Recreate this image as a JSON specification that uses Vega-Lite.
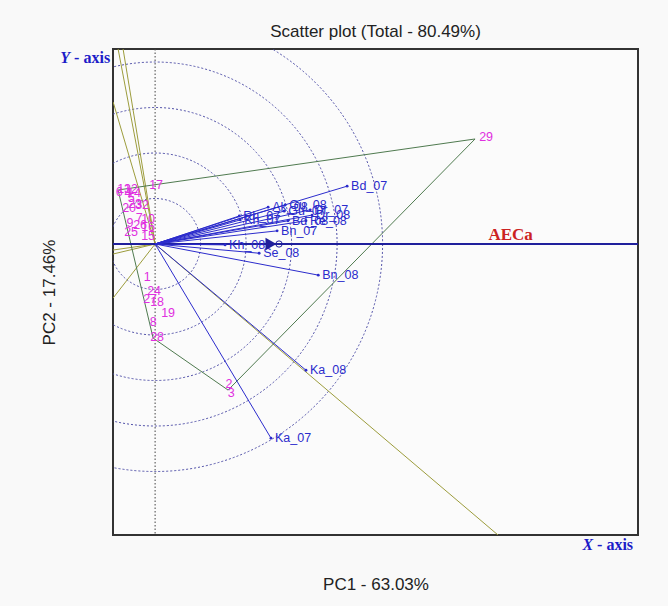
{
  "$schema": "https://vega.github.io/schema/vega-lite/v6.json",
  "width": 525,
  "height": 486,
  "autosize": {"type": "none"},
  "padding": {"left": 113, "top": 49, "right": 30, "bottom": 71},
  "background": "#f9f9f9",
  "title": {"text": "Scatter plot (Total - 80.49%)", "font": "Liberation Sans", "fontSize": 17, "fontWeight": "normal", "color": "#222222", "anchor": "middle", "frame": "group", "baseline": "alphabetic", "offset": -5},
  "config": {
    "view": {"stroke": "#333333", "strokeWidth": 2, "fill": "#fbfbfb"},
    "axis": {"domain": false, "ticks": false, "labels": false, "grid": false, "titleFont": "Liberation Sans", "titleFontSize": 17, "titleFontWeight": "normal", "titleColor": "#222222"}
  },
  "datasets": {
    "circles": [{"r": 1}, {"r": 2}, {"r": 3}, {"r": 4}, {"r": 5}],
    "refs": [{"ref": "origin"}],
    "sectors": [
      {"x": 7.25, "y": -6.64}, {"x": -0.782, "y": 4.452}, {"x": -0.677, "y": 4.452},
      {"x": -0.888, "y": 3.242}, {"x": -0.888, "y": -0.137}, {"x": -0.888, "y": -0.228}, {"x": -0.888, "y": -1.233}
    ],
    "polygon": [
      {"g": "29", "o": 1, "x": 6.765, "y": 2.397},
      {"g": "6", "o": 2, "x": -0.782, "y": 1.233},
      {"g": "28", "o": 3, "x": -0.042, "y": -2.146},
      {"g": "3", "o": 4, "x": 1.543, "y": -3.333},
      {"g": "29", "o": 5, "x": 6.765, "y": 2.397}
    ],
    "env": [
      {"env": "Bd_07", "x": 4.06, "y": 1.32},
      {"env": "Bn_08", "x": 3.45, "y": -0.71},
      {"env": "Ka_08", "x": 3.19, "y": -2.88},
      {"env": "Ka_07", "x": 2.45, "y": -4.43},
      {"env": "Bn_07", "x": 2.58, "y": 0.30},
      {"env": "Kh_08", "x": 1.48, "y": -0.02},
      {"env": "Se_08", "x": 2.20, "y": -0.21},
      {"env": "Ak_08", "x": 2.39, "y": 0.84},
      {"env": "Gu_08", "x": 2.75, "y": 0.89},
      {"env": "Gu_07", "x": 2.73, "y": 0.75},
      {"env": "Dr_07", "x": 3.28, "y": 0.78},
      {"env": "Dr_08", "x": 3.32, "y": 0.66},
      {"env": "Bd_08", "x": 2.81, "y": 0.53},
      {"env": "Re_08", "x": 3.19, "y": 0.53},
      {"env": "Rh_07", "x": 1.78, "y": 0.64},
      {"env": "Kh_07", "x": 1.80, "y": 0.55}
    ],
    "geno": [
      {"g": "6", "x": -0.761, "y": 1.187},
      {"g": "13", "x": -0.655, "y": 1.256},
      {"g": "12", "x": -0.507, "y": 1.256},
      {"g": "4", "x": -0.571, "y": 1.164},
      {"g": "14", "x": -0.444, "y": 1.164},
      {"g": "5", "x": -0.507, "y": 1.050},
      {"g": "20", "x": -0.550, "y": 0.822},
      {"g": "23", "x": -0.423, "y": 0.913},
      {"g": "32", "x": -0.275, "y": 0.890},
      {"g": "7", "x": -0.338, "y": 0.594},
      {"g": "10", "x": -0.148, "y": 0.571},
      {"g": "9", "x": -0.529, "y": 0.479},
      {"g": "26", "x": -0.317, "y": 0.434},
      {"g": "16", "x": -0.148, "y": 0.388},
      {"g": "25", "x": -0.507, "y": 0.274},
      {"g": "15", "x": -0.148, "y": 0.183},
      {"g": "17", "x": 0.021, "y": 1.347},
      {"g": "1", "x": -0.169, "y": -0.753},
      {"g": "24", "x": -0.021, "y": -1.073},
      {"g": "27", "x": -0.106, "y": -1.256},
      {"g": "18", "x": 0.042, "y": -1.324},
      {"g": "19", "x": 0.275, "y": -1.575},
      {"g": "8", "x": -0.042, "y": -1.781},
      {"g": "28", "x": 0.042, "y": -2.123},
      {"g": "2", "x": 1.564, "y": -3.196},
      {"g": "3", "x": 1.607, "y": -3.402},
      {"g": "29", "x": 6.998, "y": 2.443}
    ],
    "notes": [
      {"t": "AECa", "kind": "aec", "x": 7.516, "y": 0.215},
      {"t": "Y", "kind": "axisItalic", "x": -1.797, "y": 4.235},
      {"t": "- axis", "kind": "axisBold", "x": -0.951, "y": 4.235},
      {"t": "X", "kind": "axisItalic", "x": 9.26, "y": -6.87},
      {"t": "- axis", "kind": "axisBold", "x": 10.106, "y": -6.87}
    ],
    "aec": [{"x": 2.45, "y": 0, "part": "head"}, {"x": 2.62, "y": 0, "part": "ring"}]
  },
  "layer": [
    {
      "data": {"name": "circles"},
      "mark": {"type": "point", "shape": "circle", "filled": false, "stroke": "#5050a8", "strokeWidth": 1, "strokeDash": [2, 2], "clip": true, "opacity": 1},
      "encoding": {
        "x": {"datum": 0, "type": "quantitative", "scale": {"domain": [-0.89, 10.21], "nice": false, "zero": false}, "axis": {"title": "PC1 - 63.03%", "titlePadding": 41}},
        "y": {"datum": 0, "type": "quantitative", "scale": {"domain": [-6.64, 4.45], "nice": false, "zero": false}, "axis": {"title": "PC2 - 17.46%", "titlePadding": 55}},
        "size": {"field": "r", "type": "quantitative", "scale": {"type": "pow", "exponent": 2, "domain": [0, 5], "range": [0, 207025]}, "legend": null}
      }
    },
    {
      "data": {"name": "refs"},
      "mark": {"type": "rule", "stroke": "#444444", "strokeWidth": 1, "strokeDash": [1.5, 2]},
      "encoding": {"x": {"datum": 0, "type": "quantitative", "scale": {"domain": [-0.89, 10.21], "nice": false, "zero": false}}}
    },
    {
      "data": {"name": "sectors"},
      "mark": {"type": "rule", "stroke": "#9c9c3c", "strokeWidth": 1, "clip": true},
      "encoding": {
        "x": {"field": "x", "type": "quantitative", "scale": {"domain": [-0.89, 10.21], "nice": false, "zero": false}},
        "y": {"field": "y", "type": "quantitative", "scale": {"domain": [-6.64, 4.45], "nice": false, "zero": false}},
        "x2": {"datum": 0},
        "y2": {"datum": 0}
      }
    },
    {
      "data": {"name": "polygon"},
      "mark": {"type": "line", "stroke": "#4f7a4f", "strokeWidth": 1, "clip": true},
      "encoding": {
        "x": {"field": "x", "type": "quantitative", "scale": {"domain": [-0.89, 10.21], "nice": false, "zero": false}},
        "y": {"field": "y", "type": "quantitative", "scale": {"domain": [-6.64, 4.45], "nice": false, "zero": false}},
        "order": {"field": "o", "type": "quantitative"}
      }
    },
    {
      "data": {"name": "refs"},
      "mark": {"type": "rule", "stroke": "#1f1f9c", "strokeWidth": 2},
      "encoding": {"y": {"datum": 0, "type": "quantitative", "scale": {"domain": [-6.64, 4.45], "nice": false, "zero": false}}}
    },
    {
      "data": {"name": "env"},
      "mark": {"type": "rule", "stroke": "#2b2bcc", "strokeWidth": 1},
      "encoding": {
        "x": {"field": "x", "type": "quantitative", "scale": {"domain": [-0.89, 10.21], "nice": false, "zero": false}},
        "y": {"field": "y", "type": "quantitative", "scale": {"domain": [-6.64, 4.45], "nice": false, "zero": false}},
        "x2": {"datum": 0},
        "y2": {"datum": 0}
      }
    },
    {
      "data": {"name": "env"},
      "mark": {"type": "point", "shape": "circle", "filled": true, "color": "#2b2bcc", "size": 8, "opacity": 1},
      "encoding": {
        "x": {"field": "x", "type": "quantitative", "scale": {"domain": [-0.89, 10.21], "nice": false, "zero": false}},
        "y": {"field": "y", "type": "quantitative", "scale": {"domain": [-6.64, 4.45], "nice": false, "zero": false}}
      }
    },
    {
      "data": {"name": "env"},
      "mark": {"type": "text", "align": "left", "baseline": "middle", "dx": 4, "font": "Liberation Sans", "fontSize": 12.5, "color": "#2b2bcc"},
      "encoding": {
        "x": {"field": "x", "type": "quantitative", "scale": {"domain": [-0.89, 10.21], "nice": false, "zero": false}},
        "y": {"field": "y", "type": "quantitative", "scale": {"domain": [-6.64, 4.45], "nice": false, "zero": false}},
        "text": {"field": "env"}
      }
    },
    {
      "data": {"name": "aec"},
      "transform": [{"filter": "datum.part === 'head'"}],
      "mark": {"type": "point", "shape": "triangle-right", "filled": true, "color": "#1f1f9c", "size": 160, "opacity": 1},
      "encoding": {
        "x": {"field": "x", "type": "quantitative", "scale": {"domain": [-0.89, 10.21], "nice": false, "zero": false}},
        "y": {"field": "y", "type": "quantitative", "scale": {"domain": [-6.64, 4.45], "nice": false, "zero": false}}
      }
    },
    {
      "data": {"name": "aec"},
      "transform": [{"filter": "datum.part === 'ring'"}],
      "mark": {"type": "point", "shape": "circle", "filled": false, "stroke": "#1f1f9c", "strokeWidth": 1, "size": 40, "opacity": 1},
      "encoding": {
        "x": {"field": "x", "type": "quantitative", "scale": {"domain": [-0.89, 10.21], "nice": false, "zero": false}},
        "y": {"field": "y", "type": "quantitative", "scale": {"domain": [-6.64, 4.45], "nice": false, "zero": false}}
      }
    },
    {
      "data": {"name": "geno"},
      "mark": {"type": "text", "align": "center", "baseline": "middle", "font": "Liberation Sans", "fontSize": 12.5, "color": "#e030e0"},
      "encoding": {
        "x": {"field": "x", "type": "quantitative", "scale": {"domain": [-0.89, 10.21], "nice": false, "zero": false}},
        "y": {"field": "y", "type": "quantitative", "scale": {"domain": [-6.64, 4.45], "nice": false, "zero": false}},
        "text": {"field": "g"}
      }
    },
    {
      "data": {"name": "notes"},
      "transform": [{"filter": "datum.kind === 'aec'"}],
      "mark": {"type": "text", "align": "center", "baseline": "middle", "font": "Liberation Serif", "fontWeight": "bold", "fontSize": 17, "color": "#cc2222"},
      "encoding": {
        "x": {"field": "x", "type": "quantitative", "scale": {"domain": [-0.89, 10.21], "nice": false, "zero": false}},
        "y": {"field": "y", "type": "quantitative", "scale": {"domain": [-6.64, 4.45], "nice": false, "zero": false}},
        "text": {"field": "t"}
      }
    },
    {
      "data": {"name": "notes"},
      "transform": [{"filter": "datum.kind === 'axisItalic'"}],
      "mark": {"type": "text", "align": "right", "baseline": "middle", "font": "Liberation Serif", "fontWeight": "bold", "fontStyle": "italic", "fontSize": 16, "color": "#1c1cc8"},
      "encoding": {
        "x": {"field": "x", "type": "quantitative", "scale": {"domain": [-0.89, 10.21], "nice": false, "zero": false}},
        "y": {"field": "y", "type": "quantitative", "scale": {"domain": [-6.64, 4.45], "nice": false, "zero": false}},
        "text": {"field": "t"}
      }
    },
    {
      "data": {"name": "notes"},
      "transform": [{"filter": "datum.kind === 'axisBold'"}],
      "mark": {"type": "text", "align": "right", "baseline": "middle", "font": "Liberation Serif", "fontWeight": "bold", "fontSize": 16, "color": "#1c1cc8"},
      "encoding": {
        "x": {"field": "x", "type": "quantitative", "scale": {"domain": [-0.89, 10.21], "nice": false, "zero": false}},
        "y": {"field": "y", "type": "quantitative", "scale": {"domain": [-6.64, 4.45], "nice": false, "zero": false}},
        "text": {"field": "t"}
      }
    }
  ]
}
